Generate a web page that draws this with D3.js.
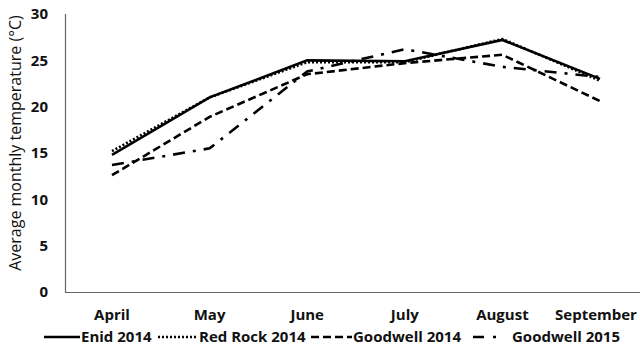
<!DOCTYPE html>
<html><head><meta charset="utf-8">
<script src="https://cdn.jsdelivr.net/npm/d3@7"></script>
<style>body{margin:0;background:#fff}svg{display:block}text{font-family:"Open Sans",sans-serif}</style>
</head><body><svg id="c" width="640" height="351"></svg>
<script>
const months = ["April","May","June","July","August","September"];
const enid2014 = [14.8, 21.0, 25.0, 24.9, 27.2, 23.0];
const redRock2014 = [15.2, 21.0, 24.8, 24.8, 27.3, 22.8];
const goodwell2014 = [12.6, 18.9, 23.5, 24.7, 25.6, 20.6];
const goodwell2015 = [13.7, 15.5, 23.8, 26.2, 24.3, 23.2];
const yTicks = [0,5,10,15,20,25,30];
const seriesNames = ["Enid 2014","Red Rock 2014","Goodwell 2014","Goodwell 2015"];

const series = [
  {name: seriesNames[0], values: enid2014, dash: null},
  {name: seriesNames[1], values: redRock2014, dash: "2,2"},
  {name: seriesNames[2], values: goodwell2014, dash: "8,4"},
  {name: seriesNames[3], values: goodwell2015, dash: "12,8,3,8"}
];

const svg = d3.select("#c");
const x = d3.scalePoint().domain(months).range([112, 600]);
const y = d3.scaleLinear().domain([0,30]).range([292, 14]);

// axes
svg.append("line").attr("x1",65.5).attr("x2",65.5).attr("y1",14).attr("y2",292.5).attr("stroke","#666").attr("stroke-width",1.2);
svg.append("line").attr("x1",65).attr("x2",640).attr("y1",292.5).attr("y2",292.5).attr("stroke","#666").attr("stroke-width",1.2);

svg.append("g").selectAll("text").data(yTicks).join("text")
  .attr("x", 48).attr("y", d => y(d)).attr("dy","0.35em")
  .attr("text-anchor","end").attr("font-size",15).attr("font-weight","bold").attr("fill","#111")
  .text(d => d);

svg.append("g").selectAll("text").data(months).join("text")
  .attr("x", (d,i) => i === months.length-1 ? 596 : x(d)).attr("y", 320)
  .attr("text-anchor","middle").attr("font-size",15).attr("font-weight","bold").attr("fill","#111")
  .text(d => d);

svg.append("text").attr("transform","translate(21,143) rotate(-90)")
  .attr("text-anchor","middle").attr("font-size",16).attr("fill","#111")
  .text("Average monthly temperature (°C)");

const line = d3.line().x((d,i)=>x(months[i])).y(d=>y(d));
svg.append("g").selectAll("path").data(series).join("path")
  .attr("d", d => line(d.values)).attr("fill","none").attr("stroke","#000")
  .attr("stroke-width",2.6).attr("stroke-dasharray", d => d.dash);

// legend
const legX = [44, 158, 311, 473];
const legTextX = [81, 199, 353, 512];
const legW = [36, 40, 41, 24];
const lg = svg.append("g");
series.forEach((s,i)=>{
  lg.append("line").attr("x1",legX[i]).attr("x2",legX[i]+legW[i]).attr("y1",337).attr("y2",337)
    .attr("stroke","#000").attr("stroke-width",2.6)
    .attr("stroke-dasharray", i===3 ? "11,9,3,20" : s.dash);
  lg.append("text").attr("x",legTextX[i]).attr("y",342)
    .attr("font-size",15).attr("font-weight","bold").attr("fill","#111").text(s.name);
});
</script></body></html>
